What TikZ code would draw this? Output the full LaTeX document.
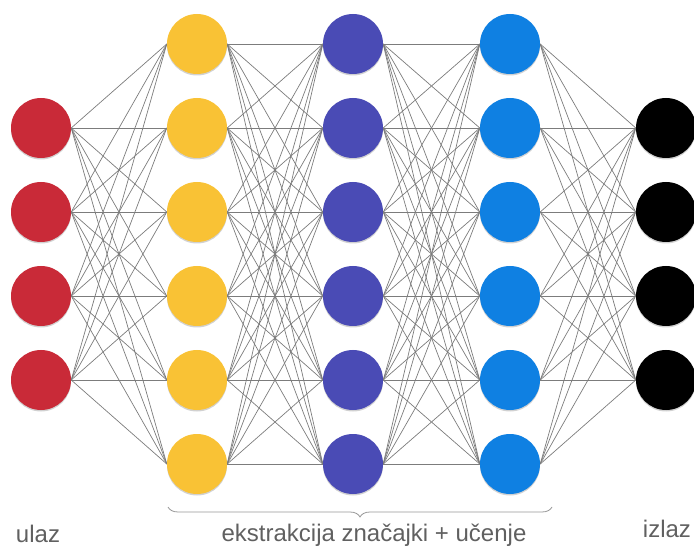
\documentclass[tikz,border=0pt]{standalone}
\usepackage{fontspec}
\setmainfont{Liberation Sans}
\usetikzlibrary{decorations.pathreplacing,shadows,backgrounds}
\definecolor{cred}{HTML}{C92A38}
\definecolor{cyel}{HTML}{F9C235}
\definecolor{cpur}{HTML}{4A4BB5}
\definecolor{cblu}{HTML}{0F80E2}
\definecolor{cedge}{HTML}{7C7C7C}
\definecolor{ctext}{HTML}{606060}
\tikzset{
  neuron/.style={circle, minimum size=60pt, inner sep=0pt, draw=none,
    drop shadow={shadow xshift=0pt, shadow yshift=-1.5pt, opacity=0.18, fill=black}},
  edge/.style={draw=cedge, line width=0.7pt},
  lbl/.style={anchor=base, text=ctext, font=\fontsize{24}{28}\selectfont, inner sep=0pt},
  bracestyle/.style={draw=cedge!80, line width=0.8pt, decorate,
    decoration={brace, amplitude=10pt, mirror}}
}
\begin{document}
\begin{tikzpicture}[x=1pt,y=1pt]
\useasboundingbox (0,0) rectangle (694,547);
\clip (0,0) rectangle (694,547);
\foreach \i/\y in {1/419,2/335,3/251,4/167}{
  \node[neuron, fill=cred] (r\i) at (41,\y) {};
  \node[neuron, fill=black] (k\i) at (666,\y) {};
}
\foreach \i/\y in {1/503,2/419,3/335,4/251,5/167,6/83}{
  \node[neuron, fill=cyel] (y\i) at (197,\y) {};
  \node[neuron, fill=cpur] (p\i) at (353,\y) {};
  \node[neuron, fill=cblu] (b\i) at (510,\y) {};
}
\begin{scope}[on background layer]
\foreach \a in {1,...,4}{\foreach \b in {1,...,6}{
  \draw[edge] (r\a.east) -- (y\b.west);
  \draw[edge] (b\b.east) -- (k\a.west);
}}
\foreach \a in {1,...,6}{\foreach \b in {1,...,6}{
  \draw[edge] (y\a.east) -- (p\b.west);
  \draw[edge] (p\a.east) -- (b\b.west);
}}
\end{scope}
\coordinate (bl) at (168,40);
\coordinate (br) at (552,40);
\draw[bracestyle] (bl) -- (br);
\node[lbl] (in) at (38,5) {ulaz};
\node[lbl] (mid) at (374,6) {ekstrakcija značajki + učenje};
\node[lbl] (out) at (667,10) {izlaz};
\end{tikzpicture}
\end{document}
